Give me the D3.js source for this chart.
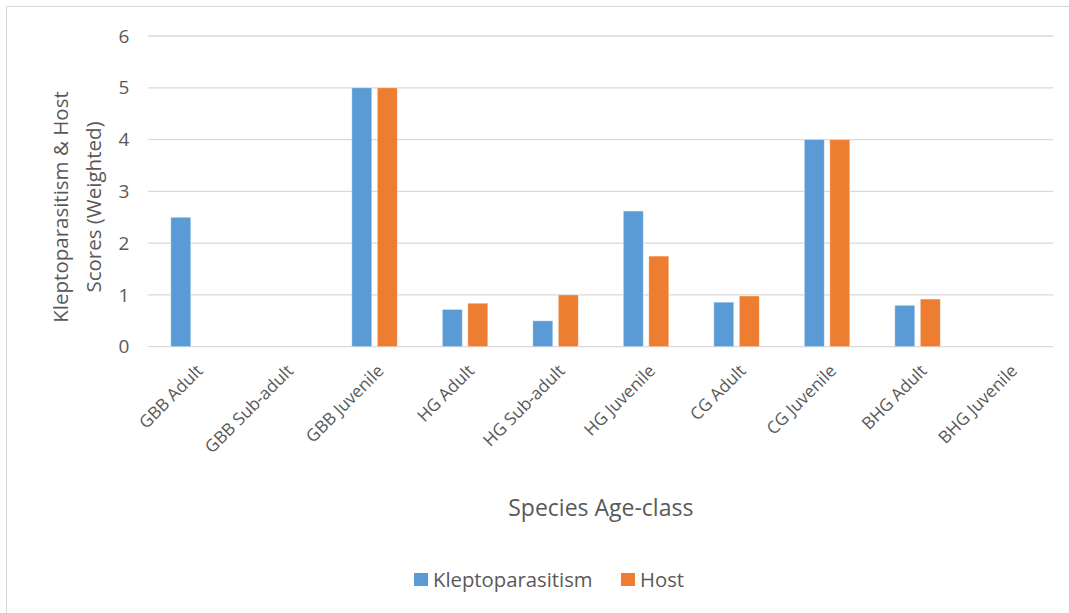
<!DOCTYPE html>
<html>
<head>
<meta charset="utf-8">
<script src="https://cdn.jsdelivr.net/npm/d3@7"></script>
<style>
  html, body { margin: 0; padding: 0; background: #fff; }
  svg { display: block; font-family: "Open Sans", "Noto Sans", sans-serif; }
</style>
</head>
<body>
<svg id="chart" width="1069" height="613"></svg>
<script>
const categories = ["GBB Adult", "GBB Sub-adult", "GBB Juvenile", "HG Adult", "HG Sub-adult",
  "HG Juvenile", "CG Adult", "CG Juvenile", "BHG Adult", "BHG Juvenile"];
const seriesNames = ["Kleptoparasitism", "Host"];
const kleptoparasitism = [2.5, 0, 5, 0.72, 0.5, 2.62, 0.86, 4, 0.8, 0];
const host = [0, 0, 5, 0.84, 1.0, 1.75, 0.98, 4, 0.92, 0];
const yTicks = [0, 1, 2, 3, 4, 5, 6];
const colors = ["#5B9BD5", "#ED7D31"];

const svg = d3.select("#chart");
const W = 1069, H = 613;
const plot = { left: 148.3, right: 1053.3, top: 36, bottom: 346.7 };

// outer frame
svg.append("rect").attr("x", 6.5).attr("y", 6.5).attr("width", W + 10).attr("height", H + 10)
  .attr("fill", "#fff").attr("stroke", "#D9D9D9").attr("stroke-width", 1);

const x0 = d3.scaleBand().domain(categories).range([plot.left, plot.right]).paddingInner(0).paddingOuter(0);
const groupW = 45.5;
const x1 = d3.scaleBand().domain(seriesNames)
  .range([(x0.bandwidth() - groupW) / 2, (x0.bandwidth() + groupW) / 2])
  .paddingInner(0.216).paddingOuter(0);
const y = d3.scaleLinear().domain([0, 6]).range([plot.bottom, plot.top]);

// gridlines
svg.append("g").selectAll("line").data(yTicks).join("line")
  .attr("x1", plot.left).attr("x2", plot.right)
  .attr("y1", d => y(d)).attr("y2", d => y(d))
  .attr("stroke", "#D9D9D9").attr("stroke-width", 1.3);

// y axis labels
const yAxis = d3.axisLeft(y).tickValues(yTicks).tickSize(0).tickPadding(0).tickFormat(d3.format("d"));
const ya = svg.append("g").attr("transform", `translate(${plot.left - 19},0)`).call(yAxis);
ya.select(".domain").remove();
ya.selectAll("text").attr("font-size", 19).attr("fill", "#595959")
  .attr("font-family", '"Open Sans", sans-serif');

// bars
const data = categories.map((c, i) => ({ cat: c, vals: [kleptoparasitism[i], host[i]] }));
const groups = svg.append("g").selectAll("g").data(data).join("g")
  .attr("transform", d => `translate(${x0(d.cat)},0)`);
groups.selectAll("rect").data(d => d.vals.map((v, j) => ({ key: seriesNames[j], v, j })))
  .join("rect")
  .filter(d => d.v > 0)
  .attr("x", d => x1(d.key))
  .attr("width", x1.bandwidth())
  .attr("y", d => y(d.v))
  .attr("height", d => y(0) - y(d.v))
  .attr("fill", d => colors[d.j])
  .attr("stroke", "#fff").attr("stroke-opacity", 0.5).attr("stroke-width", 0.8);

// x axis labels
const xAxis = d3.axisBottom(x0).tickSize(0).tickPadding(0);
const xa = svg.append("g").attr("transform", `translate(0,${plot.bottom})`).call(xAxis);
xa.select(".domain").remove();
xa.selectAll("text")
  .attr("font-size", 17.2).attr("fill", "#595959")
  .attr("font-family", '"Open Sans", sans-serif')
  .attr("text-anchor", "end")
  .attr("dy", "0.35em")
  .attr("transform", "translate(6,21) rotate(-45)");

// axis titles
svg.append("text").attr("x", (plot.left + plot.right) / 2).attr("y", 516)
  .attr("text-anchor", "middle").attr("font-size", 23).attr("fill", "#595959")
  .text("Species Age-class");

const yt = svg.append("text").attr("transform", "translate(0,207) rotate(-90)")
  .attr("text-anchor", "middle").attr("font-size", 20.5).attr("fill", "#595959");
yt.append("tspan").attr("x", 0).attr("y", 68).text("Kleptoparasitism & Host");
yt.append("tspan").attr("x", 0).attr("y", 101).text("Scores (Weighted)");

// legend
const legend = svg.append("g");
const legendItems = [{ name: seriesNames[0], x: 414 }, { name: seriesNames[1], x: 621 }];
legendItems.forEach((d, i) => {
  legend.append("rect").attr("x", d.x).attr("y", 573).attr("width", 14).attr("height", 13)
    .attr("fill", colors[i]);
  legend.append("text").attr("x", d.x + 19).attr("y", 586.5)
    .attr("font-size", 20.3).attr("fill", "#595959").text(d.name);
});
</script>
</body>
</html>
